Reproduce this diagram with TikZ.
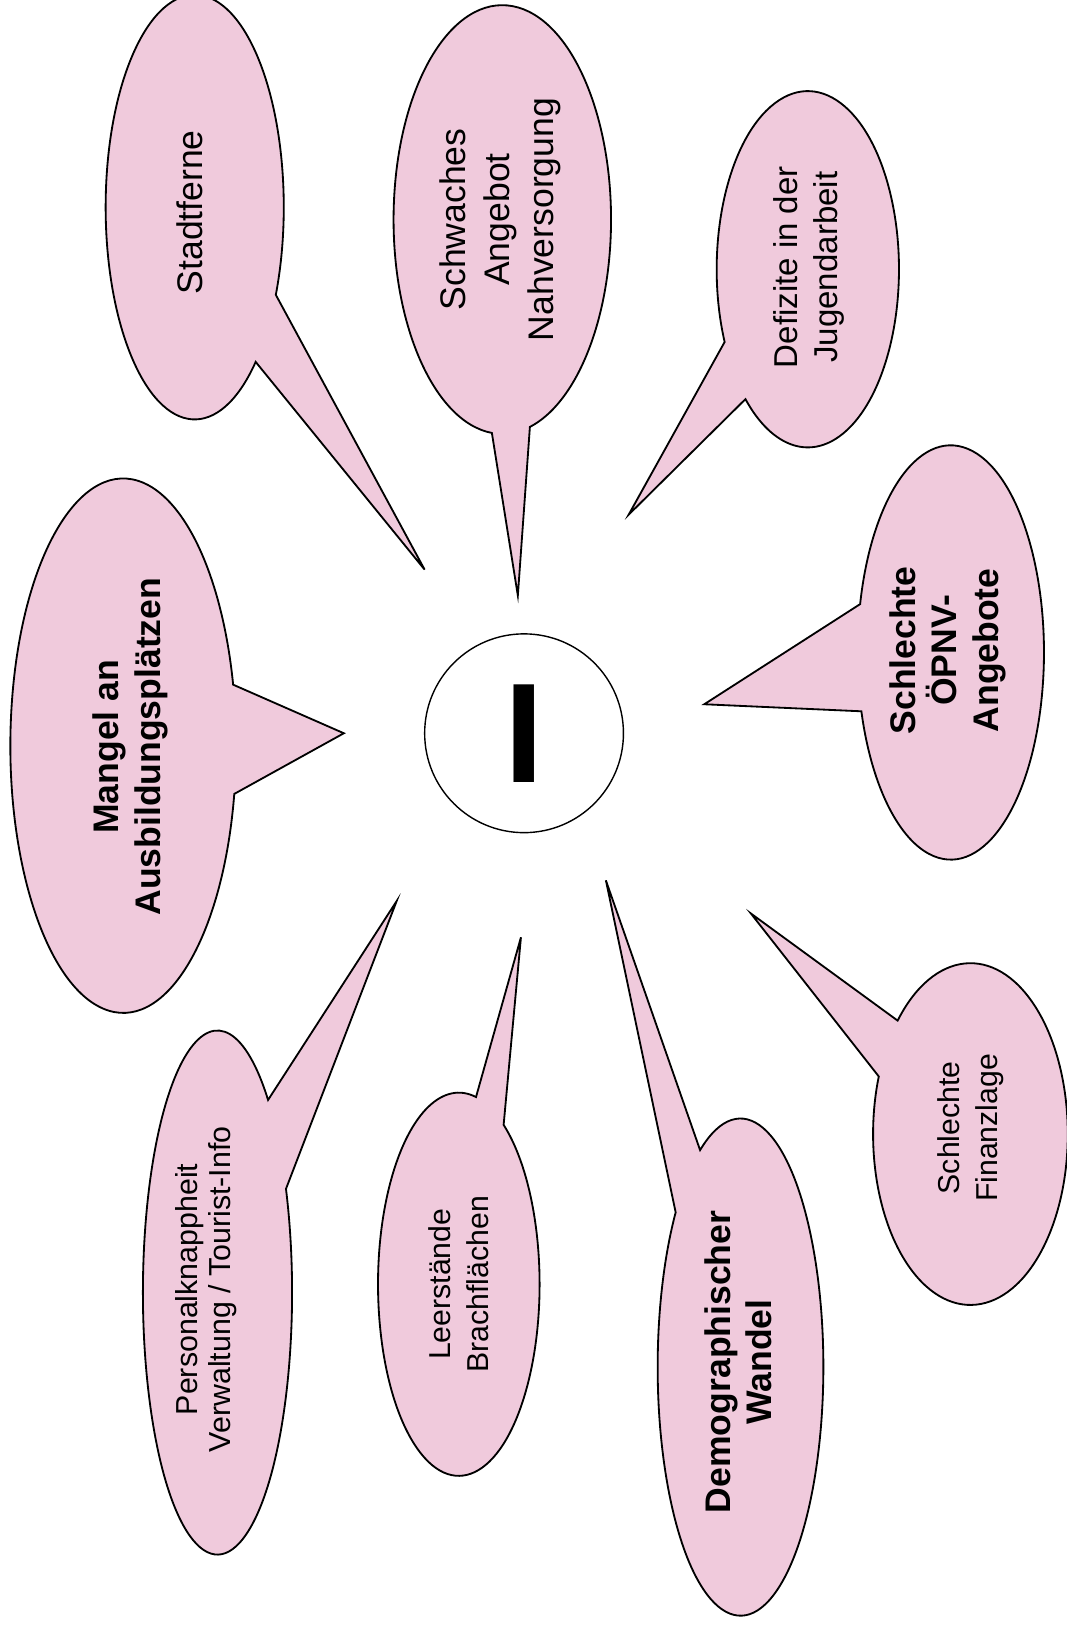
\documentclass[tikz,border=0pt]{standalone}
\usepackage{fontspec}
\setmainfont{Liberation Sans}
\usetikzlibrary{positioning}
\definecolor{bubblepink}{RGB}{240,202,220}

\tikzset{
    bubble/.style={draw=black, fill=bubblepink, line width=1.3pt, line join=miter},
    txt/.style={rotate=90, align=center, inner sep=0pt},
    txtbig/.style={txt, font=\fontsize{25.3}{31}\selectfont},
    txtbold/.style={txt, font=\fontsize{25.3}{29.5}\selectfont\bfseries},
    txtmid/.style={txt, font=\fontsize{23.5}{28}\selectfont},
    txtsmall/.style={txt, font=\fontsize{21.5}{27}\selectfont},
}

\begin{document}
\begin{tikzpicture}[x=0.0259cm, y=-0.0259cm]
    \useasboundingbox (0,0) rectangle (1030,1570);

    % speech bubbles: ellipse arc, then the tail to its tip
    \draw[bubble] (188,200) ++(46.8:86 and 205) arc[start angle=46.8, end angle=384.4, x radius=86, y radius=205] -- (410,550) -- cycle;
    \draw[bubble] (485,212) ++(95.5:105 and 207) arc[start angle=95.5, end angle=435.3, x radius=105, y radius=207] -- (500,575) -- cycle;
    \draw[bubble] (780,260) ++(155.9:88 and 172) arc[start angle=155.9, end angle=493.2, x radius=88, y radius=172] -- (607,497) -- cycle;
    \draw[bubble] (918,630) ++(193.5:90 and 200) arc[start angle=193.5, end angle=523.5, x radius=90, y radius=200] -- (680,680) -- cycle;
    \draw[bubble] (937,1095) ++(221.6:94 and 165) arc[start angle=221.6, end angle=559.7, x radius=94, y radius=165] -- (725,882) -- cycle;
    \draw[bubble] (715,1320) ++(240.8:80 and 240) arc[start angle=240.8, end angle=578.5, x radius=80, y radius=240] -- (585,850) -- cycle;
    \draw[bubble] (443,1240) ++(303.7:78 and 185) arc[start angle=303.7, end angle=642.3, x radius=78, y radius=185] -- (503,905) -- cycle;
    \draw[bubble] (210,1248) ++(336.7:72 and 253) arc[start angle=336.7, end angle=672.7, x radius=72, y radius=253] -- (383,870) -- cycle;
    \draw[bubble] (119,720) ++(10.4:109 and 258) arc[start angle=10.4, end angle=346.8, x radius=109, y radius=258] -- (332,708) -- cycle;

    % centre
    \node[circle, draw, fill=white, line width=1pt, minimum size=4.97cm, inner sep=0pt,
          font=\fontsize{101}{101}\selectfont\bfseries] (core) at (506,708) {I};

    % labels
    \node[txtbig] (stadt) at (183,205) {Stadtferne};
    \node[txtbig] (nahv) at (483,212) {Schwaches\\Angebot\\Nahversorgung};
    \node[txtmid] (jugend) at (781,258) {Defizite in der\\Jugendarbeit};
    \node[txtbold] (oepnv) at (915,628) {Schlechte\\ÖPNV-\\Angebote};
    \node[txtsmall] (finanz) at (937,1089) {Schlechte\\Finanzlage};
    \node[txtbold] (demo) at (713,1315) {Demographischer\\Wandel};
    \node[txtsmall] (leer) at (443,1240) {Leerstände\\Brachflächen};
    \node[txt, font=\fontsize{21.6}{23.6}\selectfont] (personal) at (199,1245) {Personalknappheit\\Verwaltung / Tourist-Info};
    \node[txtbold] (ausb) at (126,721) {Mangel an\\Ausbildungsplätzen};
\end{tikzpicture}
\end{document}
